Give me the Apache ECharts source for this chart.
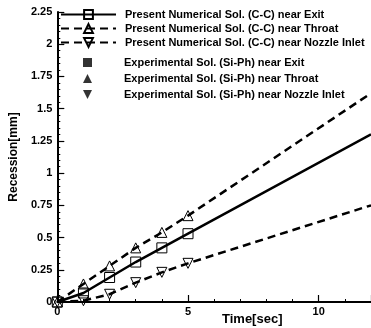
<!DOCTYPE html>
<html><head><meta charset="utf-8">
<script src="https://cdn.jsdelivr.net/npm/echarts@6/dist/echarts.min.js"></script>
<style>html,body{margin:0;padding:0;background:#fff}#c{width:371px;height:328px}</style>
</head><body><div id="c"></div>
<script>
const timeSec = [0, 1, 2, 3, 4, 5, 12];
const exitNum = [0, 0.07, 0.19, 0.31, 0.42, 0.53, 1.30];
const throatNum = [0, 0.14, 0.28, 0.42, 0.54, 0.67, 1.62];
const inletNum = [0, 0.01, 0.06, 0.15, 0.23, 0.30, 0.75];
const markerUpTo = 5; // markers drawn at t <= 5
const expExit = [];
const expThroat = [];
const expInlet = [];
const yTicks = [0, 2.25, 0.25];
const xTicks = [0, 12, 5];
const numNames = ['Present Numerical Sol. (C-C) near Exit', 'Present Numerical Sol. (C-C) near Throat', 'Present Numerical Sol. (C-C) near Nozzle Inlet'];
const expNames = ['Experimental Sol. (Si-Ph) near Exit', 'Experimental Sol. (Si-Ph) near Throat', 'Experimental Sol. (Si-Ph) near Nozzle Inlet'];

const FONT = '"Liberation Sans", Arial, sans-serif';
const DOWN_TRI = 'path://M0,0 L10,0 L5,10 Z';
function pts(vals){
  return timeSec.map((t,i)=> t<=markerUpTo ? [t, vals[i]] : {value:[t, vals[i]], symbol:'none'});
}
function numSeries(name, vals, sym, rot, dashed){
  return {
    name, type:'line', data: pts(vals), symbol: sym, symbolSize: 10, symbolRotate: rot,
    showAllSymbol: true,
    lineStyle:{color:'#000', width:2.5, type: dashed ? [8,5] : 'solid'},
    itemStyle:{color:'rgba(255,255,255,0)', borderColor:'#000', borderWidth:1},
    z: 3, animation:false
  };
}
function expSeries(name, vals, sym){
  return {name, type:'scatter', data: vals, symbol: sym, symbolSize: 9,
    itemStyle:{color:'#000'}, animation:false};
}
const chart = echarts.init(document.getElementById('c'));
chart.setOption({
  animation:false,
  grid:{left:50, right:0, top:12, bottom:26},
  legend:[
    {data:numNames, orient:'vertical', left:60, top:9, itemWidth:55, itemHeight:11, itemGap:3, padding:0,
     textStyle:{fontFamily:FONT, fontWeight:'bold', fontSize:11, color:'#000', padding:[0,0,0,4]}},
    {data:[{name:expNames[0], icon:'rect'}, {name:expNames[1], icon:'triangle'}, {name:expNames[2], icon:DOWN_TRI}],
     orient:'vertical', left:83, top:57, itemWidth:9, itemHeight:9, itemGap:5, padding:0,
     textStyle:{fontFamily:FONT, fontWeight:'bold', fontSize:11, color:'#000', padding:[0,0,0,27]}}
  ],
  xAxis:{type:'value', min:xTicks[0], max:xTicks[1], interval:xTicks[2],
    axisLine:{lineStyle:{color:'#000', width:2}},
    axisTick:{inside:true, length:7, lineStyle:{color:'#000', width:1.2}},
    minorTick:{show:true, splitNumber:5, length:3, lineStyle:{color:'#000'}},
    splitLine:{show:false},
    axisLabel:{color:'#000', fontFamily:FONT, fontWeight:'bold', fontSize:11, margin:4, showMaxLabel:false}},
  yAxis:{type:'value', min:yTicks[0], max:yTicks[1], interval:yTicks[2],
    name:'Recession[mm]', nameLocation:'middle', nameGap:33,
    nameTextStyle:{color:'#000', fontFamily:FONT, fontWeight:'bold', fontSize:12},
    axisLine:{show:true, lineStyle:{color:'#000', width:2}},
    axisTick:{show:true, inside:true, length:7, lineStyle:{color:'#000', width:1.2}},
    minorTick:{show:true, splitNumber:5, length:3, lineStyle:{color:'#000'}},
    splitLine:{show:false},
    axisLabel:{color:'#000', fontFamily:FONT, fontWeight:'bold', fontSize:11, margin:5}},
  graphic:[{type:'text', left:222, top:313, style:{text:'Time[sec]', font:'bold 13px '+FONT, fill:'#000'}}],
  series:[
    numSeries(numNames[0], exitNum, 'rect', 0, false),
    numSeries(numNames[1], throatNum, 'triangle', 0, true),
    numSeries(numNames[2], inletNum, 'triangle', 180, true),
    expSeries(expNames[0], expExit, 'rect'),
    expSeries(expNames[1], expThroat, 'triangle'),
    expSeries(expNames[2], expInlet, DOWN_TRI)
  ]
});
</script></body></html>
